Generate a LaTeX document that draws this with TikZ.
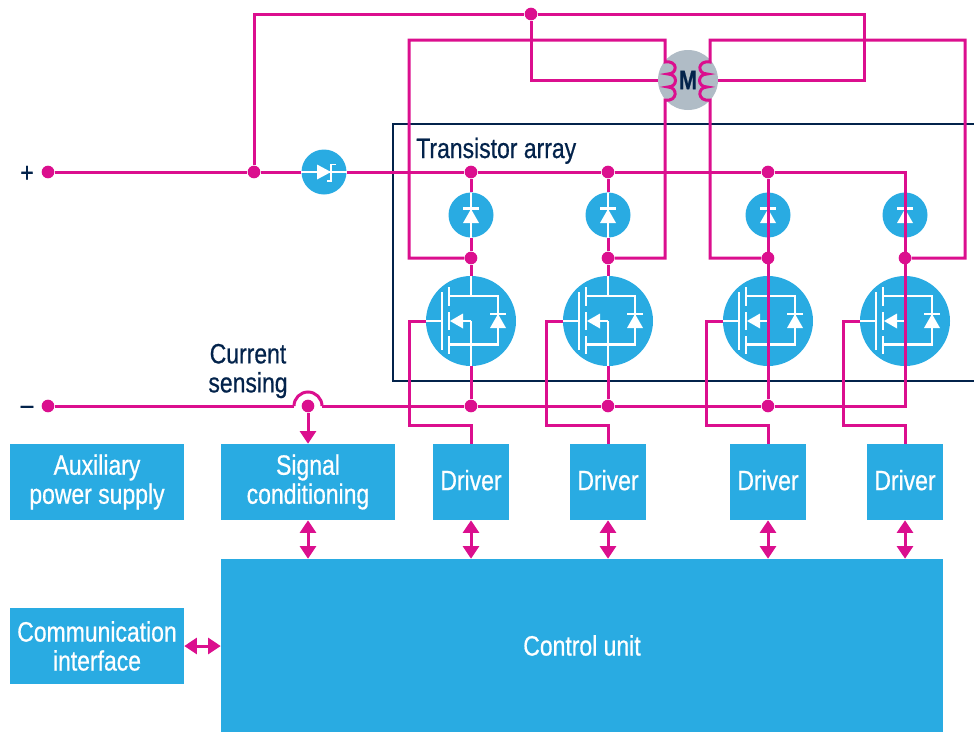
\documentclass[tikz,border=0pt]{standalone}
\usepackage{fontspec}
\setmainfont[FakeStretch=0.82,FakeBold=0.6]{Liberation Sans}
\usetikzlibrary{arrows.meta}
\definecolor{mag}{HTML}{DB0F8E}
\definecolor{blu}{HTML}{29ABE2}
\definecolor{nav}{HTML}{03234B}
\definecolor{gry}{HTML}{B0BCC6}
\tikzset{
  wire/.style={draw=mag,line width=2.25pt,line join=miter},
  dotn/.style={circle,fill=mag,minimum size=9.5pt,inner sep=0pt},
  box/.style={fill=blu,text=white,inner sep=0pt,align=center,font=\fontsize{21}{21.75}\selectfont},
  ring/.style={circle,fill=blu,inner sep=0pt},
  smallc/.style={ring,minimum size=33.75pt},
  bigc/.style={ring,minimum size=67.5pt},
  wht/.style={draw=white,line width=1.6pt},
  whf/.style={fill=white},
  both/.style={draw=mag,line width=2.25pt,{Triangle[length=9.5pt,width=12pt]}-{Triangle[length=9.5pt,width=12pt]}},
  lab/.style={text=nav,align=center,inner sep=0pt,font=\fontsize{21}{21.75}\selectfont},
}
\newcommand{\mosdetail}[2]{% centre x, 1 = with white centre line
  \begin{scope}[shift={(#1,321)}]
    \draw[wht] (-45,0) -- (-29,0);
    \draw[wht] (-29,-29) -- (-29,29);
    \draw[wht] (-22,-34) -- (-22,-15);
    \draw[wht] (-22,-9) -- (-22,9);
    \draw[wht] (-22,15) -- (-22,33);
    \draw[wht] (-22,-25) -- (27,-25) -- (27,23.5) -- (-22,23.5);
    \fill[whf] (-21,0) -- (-8,-7.5) -- (-8,7.5) -- cycle;
    \draw[wht] (-8,0) -- (0,0);
    \fill[whf] (27,-7) -- (35,7) -- (19,7) -- cycle;
    \draw[wht] (19,-7) -- (35,-7);
    \ifnum#2=1
      \draw[wht] (0,-45) -- (0,-25);
      \draw[wht] (0,0) -- (0,45);
    \fi
  \end{scope}}
\newcommand{\diodedetail}[2]{%
  \begin{scope}[shift={(#1,215)}]
    \ifnum#2=1 \draw[wht] (0,-22.5) -- (0,22.5); \fi
    \fill[whf] (0,-6) -- (8,8) -- (-8,8) -- cycle;
    \draw[wht] (-8,-6.5) -- (8,-6.5);
  \end{scope}}
\begin{document}
\begin{tikzpicture}[x=0.75pt,y=-0.75pt]
\useasboundingbox (0,0) rectangle (974,732);
% blocks
\node[box,minimum width=130.5pt,minimum height=57pt] (aux) at (97,482) {Auxiliary\\power supply};
\node[box,minimum width=130.5pt,minimum height=57pt] (sig) at (308,482) {Signal\\conditioning};
\node[box,minimum width=57pt,minimum height=57pt] (dr1) at (471,482) {\raisebox{3pt}{Driver}};
\node[box,minimum width=57pt,minimum height=57pt] (dr2) at (608,482) {\raisebox{3pt}{Driver}};
\node[box,minimum width=57pt,minimum height=57pt] (dr3) at (768,482) {\raisebox{3pt}{Driver}};
\node[box,minimum width=57pt,minimum height=57pt] (dr4) at (905,482) {\raisebox{3pt}{Driver}};
\node[box,minimum width=541.5pt,minimum height=129.75pt] (cu) at (582,645.5) {Control unit};
\node[box,minimum width=130.5pt,minimum height=57pt] (com) at (97,646) {Communication\\interface};
% transistor array frame
\coordinate (ta1) at (974,124);
\coordinate (ta2) at (393,124);
\coordinate (ta3) at (393,381);
\coordinate (ta4) at (974,381);
\draw[draw=nav,line width=2.2pt] (ta1) -- (ta2) -- (ta3) -- (ta4);
\node[lab,anchor=base west] (talab) at (416,158) {Transistor array};
% round symbols
\node[circle,fill=gry,minimum size=45pt,inner sep=0pt] (mot) at (688,80) {};
\node[smallc] (zen) at (324,172) {};
\node[smallc] (da) at (471,215) {};
\node[smallc] (db) at (608,215) {};
\node[smallc] (dc) at (768,215) {};
\node[smallc] (dd) at (905,215) {};
\node[bigc] (ma) at (471,321) {};
\node[bigc] (mb) at (608,321) {};
\node[bigc] (mc) at (768,321) {};
\node[bigc] (md) at (905,321) {};
\mosdetail{471}{1}\mosdetail{608}{1}\mosdetail{768}{0}\mosdetail{905}{0}
\diodedetail{471}{1}\diodedetail{608}{1}\diodedetail{768}{0}\diodedetail{905}{0}
% zener
\draw[wht] (zen.west) -- (zen.east);
\fill[whf] (331,172) -- (317,164.5) -- (317,179.5) -- cycle;
\draw[draw=white,line width=1.4pt] (336,164.5) -- (331,164.5) -- (331,181) -- (326.5,181);
% junctions
\node[dotn] (plus) at (48,172) {};
\node[dotn] (minus) at (48,406) {};
\node[dotn] (j0) at (254,172) {};
\node[dotn] (jt) at (531,14) {};
\node[dotn] (t1) at (471,172) {};
\node[dotn] (t2) at (608,172) {};
\node[dotn] (t3) at (768,172) {};
\node[dotn] (m1) at (471,258) {};
\node[dotn] (m2) at (608,258) {};
\node[dotn] (m3) at (768,258) {};
\node[dotn] (m4) at (905,258) {};
\node[dotn] (b1) at (471,406) {};
\node[dotn] (b2) at (608,406) {};
\node[dotn] (b3) at (768,406) {};
\node[dotn] (sense) at (308,406) {};
% helper points
\coordinate (tr) at (864,14);
\coordinate (trb) at (864,80);
\coordinate (tm) at (531,80);
\coordinate (cr) at (905,172);
\coordinate (br) at (905,406);
\coordinate (hl) at (294,406);
\coordinate (hr) at (322,406);
\coordinate (g1) at (409,425);
\coordinate (g2) at (546,425);
\coordinate (g3) at (706,425);
\coordinate (g4) at (843,425);
\coordinate (la) at (409,40);
\coordinate (lb) at (665,40);
\coordinate (ra) at (710,40);
\coordinate (rb) at (965,40);
\coordinate (cl1) at (665,62);
\coordinate (cl2) at (665,100);
\coordinate (cr1) at (710,62);
\coordinate (cr2) at (710,100);
% supply rails
\draw[wire] (plus) -- (j0) -- (zen);
\draw[wire] (zen) -- (t1) -- (t2) -- (t3) -- (cr) -- (br) -- (b3) -- (b2) -- (b1) -- (hr);
\draw[wire] (hr) .. controls (322,398.3) and (315.7,392) .. (308,392)
  .. controls (300.3,392) and (294,398.3) .. (hl);
\draw[wire] (hl) -- (minus);
\draw[wire] (j0) |- (jt) -| (trb) -- (mot);
\draw[wire] (jt) |- (tm) -- (mot);
% transistor legs
\draw[wire] (t1) -- (da); \draw[wire] (da) -- (m1) -- (ma); \draw[wire] (ma) -- (b1);
\draw[wire] (t2) -- (db); \draw[wire] (db) -- (m2) -- (mb); \draw[wire] (mb) -- (b2);
\draw[wire] (t3) -- (b3);
% motor windings
\draw[wire] (m1) -| (la) -- (lb) -- (cl1)
  .. controls (678,60) and (678,74) .. (668,74)
  .. controls (678,74) and (678,87) .. (668,87)
  .. controls (678,87) and (678,102) .. (cl2) |- (m2);
\draw[wire] (m3) -| (cr2)
  .. controls (697,102) and (697,87) .. (707,87)
  .. controls (697,87) and (697,74) .. (707,74)
  .. controls (697,74) and (697,60) .. (cr1) -- (ra) -- (rb) |- (m4);
% gates
\draw[wire] (ma.west) -| (g1) -| (dr1.north);
\draw[wire] (mb.west) -| (g2) -| (dr2.north);
\draw[wire] (mc.west) -| (g3) -| (dr3.north);
\draw[wire] (md.west) -| (g4) -| (dr4.north);
% arrows
\draw[draw=mag,line width=2.25pt,-{Triangle[length=9.5pt,width=12pt]}] (sense) -- (sig.north);
\draw[both] (sig.south) -- (sig.south |- cu.north);
\draw[both] (dr1.south) -- (dr1.south |- cu.north);
\draw[both] (dr2.south) -- (dr2.south |- cu.north);
\draw[both] (dr3.south) -- (dr3.south |- cu.north);
\draw[both] (dr4.south) -- (dr4.south |- cu.north);
\draw[both] (com.east) -- (com.east -| cu.west);
% labels
\node[text=nav,font=\fontsize{20}{20}\selectfont\bfseries,inner sep=0pt] (mlab) at (688,80) {M};
\node[lab] (plab) at (27,174) {+};
\node[lab] (mnlab) at (27,410) {–};
\node[lab] (cslab) at (248,371) {Current\\sensing};
\end{tikzpicture}
\end{document}
